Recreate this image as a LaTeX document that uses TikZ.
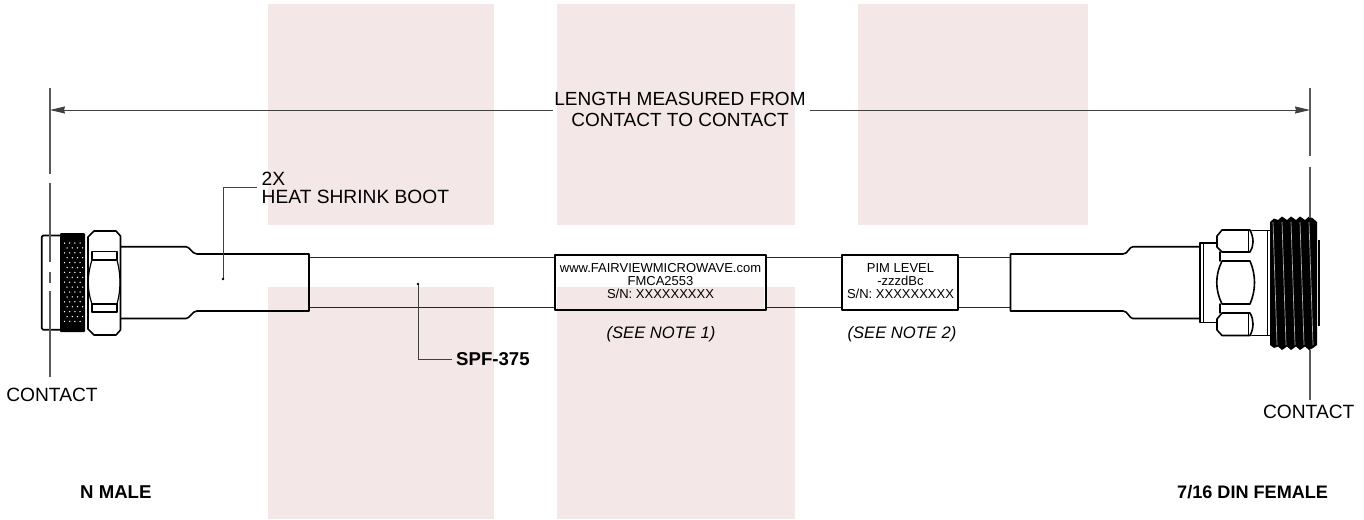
\documentclass[tikz,border=0pt]{standalone}
\usepackage{fontspec}
\setmainfont{Liberation Sans}
\usetikzlibrary{arrows.meta}
\definecolor{wm}{HTML}{F4E7E7}
\tikzset{
  wmbox/.style={fill=wm,draw=none},
  part/.style={draw=black,line width=1.6pt,line join=round,line cap=round},
  cablel/.style={draw=black!85,line width=1.5pt},
  dimline/.style={draw=black!65,line width=1.2pt},
  leader/.style={draw=black!75,line width=1pt},
  arrowl/.style={draw=black!75,line width=1pt,-{Stealth[length=15pt,width=7pt,inset=1pt]}},
  lbl/.style={font=\fontsize{19.2pt}{18pt}\selectfont,inner sep=0pt,align=left},
  blbl/.style={font=\fontsize{18.6pt}{18pt}\selectfont\bfseries,inner sep=0pt},
  nlbl/.style={font=\fontsize{16.6pt}{18pt}\selectfont\itshape,inner sep=0pt},
  tag/.style={font=\fontsize{13pt}{13pt}\selectfont,inner sep=0pt,align=center}
}
\begin{document}
\begin{tikzpicture}[x=1pt,y=-1pt]
\useasboundingbox (0,0) rectangle (1364,519);
\fill[white] (0,0) rectangle (1364,519);
% pale background blocks
\fill[wmbox] (268,4) rectangle (494,225);
\fill[wmbox] (557,4) rectangle (795,225);
\fill[wmbox] (858,4) rectangle (1088,225);
\fill[wmbox] (268,287) rectangle (494,519);
\fill[wmbox] (557,287) rectangle (795,519);
% cable
\draw[cablel] (309,257.3) -- (1010,257.3);
\draw[cablel] (309,307.7) -- (1010,307.7);
% labels on the cable
\draw[part,fill=white] (555,255) rectangle (766,310);
\fill[wm] (557,287) rectangle (764,309.2);
\draw[part,fill=white] (842,255) rectangle (958,310);
\node[tag] (lab1) at (660.5,281.5) {www.FAIRVIEWMICROWAVE.com\\FMCA2553\\S/N: XXXXXXXXX};
\node[tag] (lab2) at (900.5,281.5) {PIM LEVEL\\-zzzdBc\\S/N: XXXXXXXXX};
% left boot
\draw[part] (121,246.7) -- (186,246.7) .. controls (190,246.7) and (192,254) .. (197,254) -- (309,254) -- (309,311) -- (197,311) .. controls (192,311) and (190,318.5) .. (186,318.5) -- (121,318.5);
% right boot
\draw[part] (1200,246.7) -- (1133,246.7) .. controls (1129,246.7) and (1128,254) .. (1123,254) -- (1010.5,254) -- (1010.5,311) -- (1123,311) .. controls (1128,311) and (1129,318.5) .. (1133,318.5) -- (1200,318.5);
% N male connector
\draw[line width=1.7pt,line join=round] (60,235.5) -- (43,235.5) -- (41.7,237) -- (41.7,328) -- (43,329.7) -- (60,329.7);
\fill[black,rounded corners=1pt] (60,233) rectangle (85,332);
\foreach \r in {0,...,16} {
  \pgfmathsetmacro{\yy}{243+\r*4.9}
  \pgfmathsetmacro{\off}{mod(\r,2)*2.6}
  \foreach \c in {0,...,3} {
    \fill[white] ({64.5+\off+\c*5.2},\yy) circle (0.75pt);
  }
}
\draw[part] (94,231) -- (116,231) -- (120.5,236) -- (120.5,330) -- (116,335) -- (94,335) -- (88,329) -- (88,237) -- cycle;
\draw[part,line width=1.3pt] (92,251.7) -- (117,251.7) (92,260) -- (117,260) (92,304) -- (117,304) (92,312) -- (117,312);
\draw[part,line width=1.1pt] (92,251.7) -- (92,260) (117,251.7) -- (117,260) (92,304) -- (92,312) (117,304) -- (117,312);
\draw[part,line width=1.2pt] (92,260) .. controls (87,275) and (87,290) .. (92,304);
\draw[part,line width=1.2pt] (117,260) .. controls (121,275) and (121,290) .. (117,304);
% 7/16 DIN connector
\draw[part] (1200,242.7) -- (1217,242.7) (1200,322.3) -- (1217,322.3) (1200,242.7) -- (1200,322.3);
\draw[line width=0.8pt] (1203,243) -- (1203,322);
\draw[part] (1252,230.5) -- (1270,230.5) (1252,335.5) -- (1270,335.5);
\draw[line width=1.2pt] (1267.5,231) -- (1267.5,335);
\draw[part] (1222,230) -- (1250,230) .. controls (1254,238) and (1254,246) .. (1250,252) -- (1222,252) -- (1217,247) -- (1217,236) -- cycle;
\draw[part] (1222,261) -- (1250,261) .. controls (1256,275) and (1256,290) .. (1250,304) -- (1222,304) .. controls (1215,290) and (1215,275) .. (1222,261);
\draw[part] (1222,313) -- (1250,313) .. controls (1254,320) and (1254,328) .. (1250,335.5) -- (1222,335.5) -- (1217,330) -- (1217,319) -- cycle;
\draw[line width=1pt] (1248,230) -- (1248,252) (1248,313) -- (1248,335);
\draw[part,line width=1.4pt] (1220,252) -- (1220,261) (1220,304) -- (1220,313);
% thread block
\fill[black,line join=round] (1270,222) -- (1274,218.5) -- (1278,220) -- (1282,216.5) -- (1287,220) -- (1291,216.5) -- (1296,220) -- (1300,216.5) -- (1305,220) -- (1309,216.5) -- (1313,218.5) -- (1317,222) -- (1317,345) -- (1313,348) -- (1309,350) -- (1305,346.5) -- (1300,350) -- (1296,346.5) -- (1291,350) -- (1287,346.5) -- (1282,350) -- (1278,346.5) -- (1274,348) -- (1270,345) -- cycle;
\foreach \x in {1273,1282,1291,1300,1309} {
  \draw[white!70!black,line width=0.7pt] (\x,222) -- ({\x+4},345);
}
\draw[black,line width=2pt] (1317.5,241) -- (1319,241) -- (1319,325) -- (1317.5,325);
% contact lines
\coordinate (ltop) at (50,88);
\coordinate (rtop) at (1310,88);
\draw[dimline] (ltop) -- (50,174);
\draw[dimline] (50,183) -- (50,262);
\draw[dimline] (50,272) -- (50,283);
\draw[dimline] (50,291) -- (50,377);
\draw[dimline] (rtop) -- (1310,155.5);
\draw[dimline] (1310,167) -- (1310,218);
\draw[dimline] (1310,350) -- (1310,400);
% length dimension
\node[lbl,align=center,font=\fontsize{19pt}{21pt}\selectfont] (len) at (680,109.5) {LENGTH MEASURED FROM\\CONTACT TO CONTACT};
\coordinate (la) at (50,110);
\coordinate (ra) at (1310,110);
\draw[arrowl] (553,110) -- (la);
\draw[arrowl] (810,110) -- (ra);
% leaders
\node[lbl,anchor=west] (boot) at (261.5,188) {2X\\HEAT SHRINK BOOT};
\coordinate (bootdot) at (223,279);
\coordinate (bootcorner) at (223,187);
\draw[leader] (bootdot) -- (bootcorner) -- (257,187);
\fill (bootdot) circle (1.3pt);
\node[blbl,anchor=west] (spf) at (456,359) {SPF-375};
\coordinate (spfdot) at (418,284);
\draw[leader] (spfdot) -- (418,359) -- (452,359);
\fill (spfdot) circle (1.3pt);
% other labels
\node[nlbl] (n1) at (661,334) {(SEE NOTE 1)};
\node[nlbl] (n2) at (902,334) {(SEE NOTE 2)};
\node[lbl] (c1) at (52,394.5) {CONTACT};
\node[lbl] (c2) at (1308.7,412) {CONTACT};
\node[blbl,anchor=west] (nm) at (80,492) {N MALE};
\node[blbl,anchor=west,font=\fontsize{18.1pt}{18pt}\selectfont\bfseries] (din) at (1177,492) {7/16 DIN FEMALE};
\end{tikzpicture}
\end{document}
